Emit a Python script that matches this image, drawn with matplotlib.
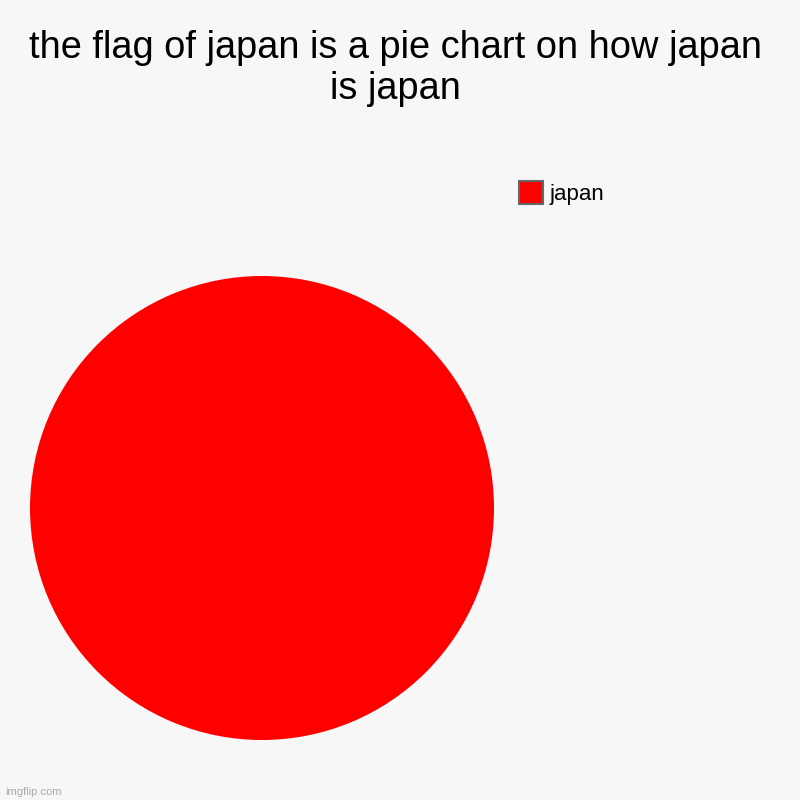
import matplotlib.pyplot as plt
from matplotlib.patches import Patch

plt.rcParams['font.family'] = ['Liberation Sans', 'DejaVu Sans']

# data
labels = ["japan"]
values = [100]
colors = ["#ff0000"]

title = "the flag of japan is a pie chart on how japan\nis japan"

fig = plt.figure(figsize=(8, 8), dpi=100)
fig.patch.set_facecolor("#f7f7f7")

# pie axes: centre (262, 508) px, radius 232 px
ax = fig.add_axes([30 / 800, 60 / 800, 464 / 800, 464 / 800])
ax.pie(values, colors=colors, startangle=90, counterclock=False,
       wedgeprops=dict(linewidth=0), radius=1.0)
ax.set_xlim(-1, 1)
ax.set_ylim(-1, 1)
ax.set_aspect("equal")
ax.axis("off")

fig.text(0.494, 0.962, title, ha="center", va="top", fontsize=27.4,
         linespacing=1.16, color="black")

handles = [Patch(facecolor=c, edgecolor="#666666", linewidth=1.5) for c in colors]
leg = fig.legend(handles, labels, loc="upper left", bbox_to_anchor=(0.649, 0.774),
                 frameon=False, fontsize=16, handlelength=1.05, handleheight=1.2,
                 handletextpad=0.3, borderpad=0, borderaxespad=0)

fig.text(0.006, 0.004, "imgflip.com", fontsize=8, color="#aaaaaa",
         ha="left", va="bottom")

plt.savefig("out.png", dpi=100, facecolor=fig.get_facecolor())
